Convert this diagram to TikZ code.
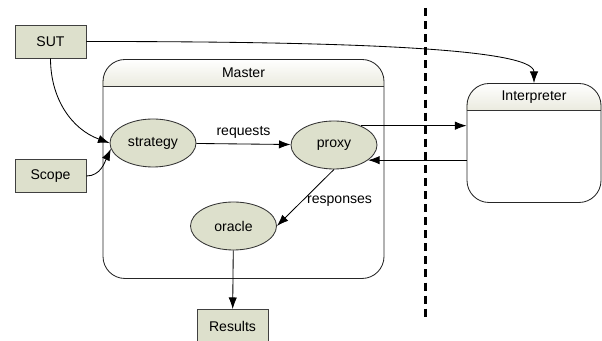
\documentclass[tikz,border=0pt]{standalone}
\usepackage{fontspec}
\setmainfont{Liberation Sans}
\usetikzlibrary{arrows.meta,backgrounds,shapes.geometric}
\definecolor{nodefill}{RGB}{221,224,204}
\definecolor{headfill}{RGB}{234,234,222}
\tikzset{
  block/.style={rectangle, draw=black!75, fill=nodefill, minimum width=1.775cm, minimum height=0.825cm},
  state/.style={ellipse, draw=black!80, fill=nodefill, minimum width=2.15cm, minimum height=1.2cm},
  container/.style={rectangle, draw=black!85, rounded corners=0.55cm},
  title/.style={anchor=north, minimum height=0.675cm, inner sep=0pt},
}

\begin{document}
\begin{tikzpicture}[>={Latex[length=2.9mm,width=2.1mm]}, line width=0.6pt]
        \useasboundingbox (0,0) rectangle (15.05,8.525);
        % inputs and output
        \node[block] (SUT) at (1.2625,7.4875) {SUT};
        \node[block] (Scope) at (1.2625,4.125) {Scope};
        \node[block] (Results) at (5.8125,0.375) {Results};
        % containers
        \node[container, minimum width=7.025cm, minimum height=5.475cm] (master) at (6.0875,4.3) {};
        \node[container, minimum width=3.35cm, minimum height=2.975cm] (interp) at (13.35,4.95) {};
        \node[title] (masterhead) at (master.north) {Master};
        \node[title] (interphead) at (interp.north) {Interpreter};
        \begin{scope}[on background layer]
            \begin{scope}
                \clip[rounded corners=0.55cm] (master.south west) rectangle (master.north east);
                \shade[top color=white, bottom color=headfill] (master.north west) rectangle (master.east |- masterhead.south);
            \end{scope}
            \begin{scope}
                \clip[rounded corners=0.55cm] (interp.south west) rectangle (interp.north east);
                \shade[top color=white, bottom color=headfill] (interp.north west) rectangle (interp.east |- interphead.south);
            \end{scope}
        \end{scope}
        \draw[black!80] (master.west |- masterhead.south) -- (master.east |- masterhead.south);
        \draw[black!80] (interp.west |- interphead.south) -- (interp.east |- interphead.south);
        % states inside Master
        \node[state] (strategy) at (3.825,4.95) {strategy};
        \node[state] (proxy) at (8.35,4.9) {proxy};
        \node[state] (oracle) at (5.8375,2.875) {oracle};
        % boundary
        \draw[line width=2pt, dash pattern=on 5.7pt off 3.6pt] (10.64,8.325) -- (10.64,0.575);
        % connectors
        \draw[->] (SUT.east) to[out=0, in=90, out distance=6cm, in distance=0.9cm] (interp.north);
        \draw[->] (SUT.south) to[out=-90, in=160] (strategy.west);
        \draw[->] (Scope.east) to[out=0, in=-115] (strategy.188);
        \draw[->] (strategy) -- node[above] {requests} (proxy);
        \draw[->] (proxy.36) -- (proxy.36 -| interp.west);
        \draw[->] (interp.west |- proxy.-24) -- (proxy.-24);
        \draw[->] (proxy.south) -- node[right, pos=0.56] {responses} (oracle.east);
        \draw[->] (oracle) -- (Results);
    \end{tikzpicture}
\end{document}
